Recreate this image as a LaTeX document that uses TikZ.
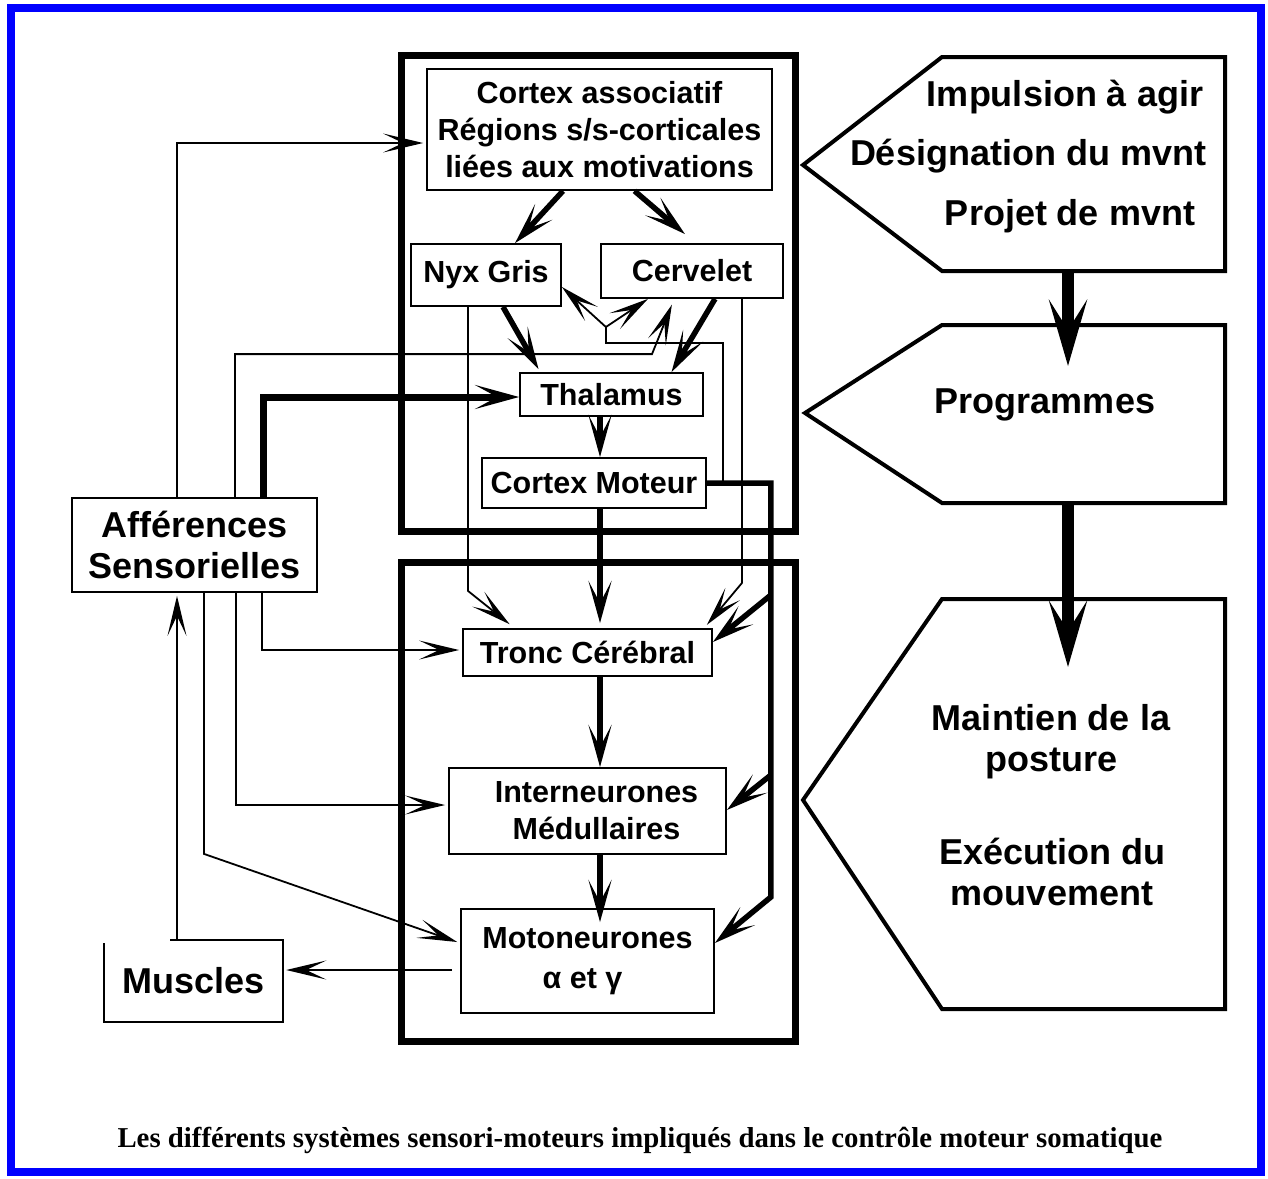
\documentclass[tikz,border=0pt]{standalone}
\usepackage{fontspec}
\setmainfont{Liberation Sans}
\newfontfamily\capfont{Liberation Serif}
\usetikzlibrary{arrows.meta,calc}

\definecolor{frameblue}{RGB}{0,0,255}
\newcommand\boxfont{\fontsize{30.5}{37}\selectfont\bfseries}
\newcommand\bigfont{\fontsize{36}{41}\selectfont\bfseries}

\tikzset{
  box/.style={draw, line width=1.8pt, inner sep=0pt, align=center, font=\boxfont},
  fineline/.style={line width=1.8pt},
  fineconn/.style={line width=1.8pt, shorten >=3pt, -{Stealth[length=40pt,width=19pt,inset=20pt]}},
  boldconn/.style={line width=5.5pt, -{Stealth[length=42pt,width=23pt,inset=22pt]}},
  heavyconn/.style={line width=12pt, -{Stealth[length=66pt,width=38pt,inset=30pt]}},
  frameline/.style={line width=7pt},
  stage/.style={line width=4pt, line join=miter},
  stagetext/.style={font=\bigfont, inner sep=0pt, align=center}
}

\begin{document}
\begin{tikzpicture}[x=1pt,y=-1pt]
\useasboundingbox (0,0) rectangle (1268,1178);
\fill[white] (0,0) rectangle (1268,1178);
\draw[frameblue, line width=8pt] (11,8) rectangle (1261,1172);

% the two nervous-system frames
\draw[frameline] (401,55) rectangle (795,531);
\draw[frameline] (401,562) rectangle (795,1041);

% boxes
\node[box, minimum width=345pt, minimum height=121pt] (ca) at (599.5,129.5)
  {Cortex associatif\\Régions s/s-corticales\\liées aux motivations};
\node[box, minimum width=150pt, minimum height=62pt] (ng) at (486,275) {Nyx Gris};
\node[box, minimum width=182pt, minimum height=54pt] (cerv) at (692,271) {Cervelet};
\node[box, minimum width=183pt, minimum height=43pt] (thal) at (611.5,394.5) {Thalamus};
\node[box, minimum width=224pt, minimum height=50pt] (cm) at (594,483) {Cortex Moteur};
\node[box, minimum width=249pt, minimum height=47pt] (tronc) at (587.5,652.5) {Tronc Cérébral};
\node[box, minimum width=277pt, minimum height=86pt] (inter) at (587.5,811)
  {\hspace*{18pt}Interneurones\\\hspace*{18pt}Médullaires};
\node[box, minimum width=253pt, minimum height=104pt] (moto) at (587.5,961)
  {Motoneurones\\[3pt]α et γ\hspace*{10pt}};
\node[box, font=\bigfont, minimum width=245pt, minimum height=94pt] (afs) at (194.5,545)
  {Afférences\\Sensorielles};
\node[inner sep=0pt, minimum width=179pt, minimum height=82pt, font=\bigfont] (mus) at (193.5,981) {Muscles};
\draw[fineline] ([xshift=-23.5pt]mus.north) -- (mus.north east) -- (mus.south east)
  -- (mus.south west) -- ([yshift=-3pt]mus.north west);

% descending pathway
\draw[boldconn] ([xshift=-36.5pt]ca.south) -- ([xshift=29pt]ng.north);
\draw[boldconn] ([xshift=35pt]ca.south) -- ([xshift=-7pt,yshift=9pt]cerv.north);
\draw[boldconn] ([xshift=17pt]ng.south) -- ([xshift=-73pt,yshift=3pt]thal.north);
\draw[boldconn] ([xshift=23pt]cerv.south) -- ([xshift=60pt]thal.north);
\draw[boldconn] ([xshift=-11.5pt]thal.south) -- ([xshift=6pt]cm.north);
\draw[boldconn] ([xshift=6pt]cm.south) -- ([xshift=12.5pt,yshift=5pt]tronc.north);
\draw[boldconn] ([xshift=12.5pt]tronc.south) -- ([xshift=12.5pt]inter.north);
\draw[boldconn] ([xshift=12.5pt]inter.south) -- ([xshift=12.5pt,yshift=-14pt]moto.north);

% cortico-spinal bus
\coordinate (busT) at ($(cm.east)+(64,0)$);
\coordinate (busB) at ($(busT)+(0,414)$);
\draw[boldconn] (cm.east) -- (busT) -- (busB) -- ([yshift=18pt]moto.east);
\draw[boldconn] ($(busT)+(0,112)$) -- ([yshift=10.5pt]tronc.east);
\draw[boldconn] ($(busT)+(0,292)$) -- ([yshift=1pt]inter.east);

% motor cortex feedback to basal ganglia and cerebellum
\coordinate (fb) at ($(cm.east)+(16,0)$);
\draw[fineline] (fb) -- ++(0,-140) -- ++(-117,0) -- ++(0,-16) coordinate (split);
\draw[fineconn, shorten >=0pt] (split) -- ([yshift=-12pt]ng.east);
\draw[fineconn, shorten >=0pt] (split) -- ([xshift=-44pt]cerv.south);

% basal ganglia and cerebellum to brain stem
\draw[fineconn] ([xshift=-18pt]ng.south) -- ++(0,284) -- ([xshift=-75.5pt,yshift=2pt]tronc.north);
\draw[fineconn] ([xshift=50pt]cerv.south) -- ++(0,284) -- ([xshift=117.5pt,yshift=1pt]tronc.north);

% sensory afferents
\draw[fineconn] ([xshift=-17.5pt]afs.north) |- ([yshift=-13.5pt]ca.west);
\draw[fineconn] ([xshift=40.5pt]afs.north) -- ++(0,-143) -- ++(417,0) -- ([xshift=-19pt,yshift=-3pt]cerv.south);
\draw[line width=7pt, -{Stealth[length=44pt,width=24pt,inset=22pt]}]
  ([xshift=68.5pt]afs.north) |- ([yshift=-2.5pt]thal.west);
\draw[fineconn] ([xshift=67.5pt]afs.south) |- ([yshift=2.5pt]tronc.west);
\draw[fineconn] ([xshift=41.5pt]afs.south) |- ([yshift=6pt]inter.west);
\draw[fineconn] ([xshift=9.5pt]afs.south) -- ++(0,261) -- ([yshift=18pt]moto.west);

% motor output and proprioceptive return
\draw[fineconn] ([xshift=-8pt,yshift=-9pt]moto.west) -- ([yshift=11pt]mus.east);
\draw[fineconn] ([xshift=-16.5pt]mus.north) -- ([xshift=-17.5pt]afs.south);

% functional stages
\draw[stage] (803,165) -- (942,57) -- (1225,57) -- (1225,271) -- (942,271) -- cycle;
\draw[stage] (805,413) -- (942,325) -- (1225,325) -- (1225,503) -- (942,503) -- cycle;
\draw[stage] (803,800) -- (942,599) -- (1225,599) -- (1225,1009) -- (942,1009) -- cycle;

\node[stagetext] (impl) at (1065,97) {Impulsion à agir};
\node[stagetext] (desig) at (1028,156) {Désignation du mvnt};
\node[stagetext] (proj) at (1070,216) {Projet de mvnt};
\node[stagetext] (prog) at (1045,405) {Programmes};
\node[stagetext] (maint) at (1051,742) {Maintien de la\\posture};
\node[stagetext] (exec) at (1052,872) {Exécution du\\mouvement};

\coordinate (s1b) at (1068,271);
\coordinate (s2t) at (1068,366);
\coordinate (s2b) at (1068,503);
\coordinate (s3t) at (1068,667);
\draw[heavyconn] (s1b) -- (s2t);
\draw[heavyconn] (s2b) -- (s3t);

% caption
\node[font=\capfont\fontsize{28.8}{34}\selectfont\bfseries, inner sep=0pt] (cap) at (640,1140)
  {Les différents systèmes sensori-moteurs impliqués dans le contrôle moteur somatique};
\end{tikzpicture}
\end{document}
